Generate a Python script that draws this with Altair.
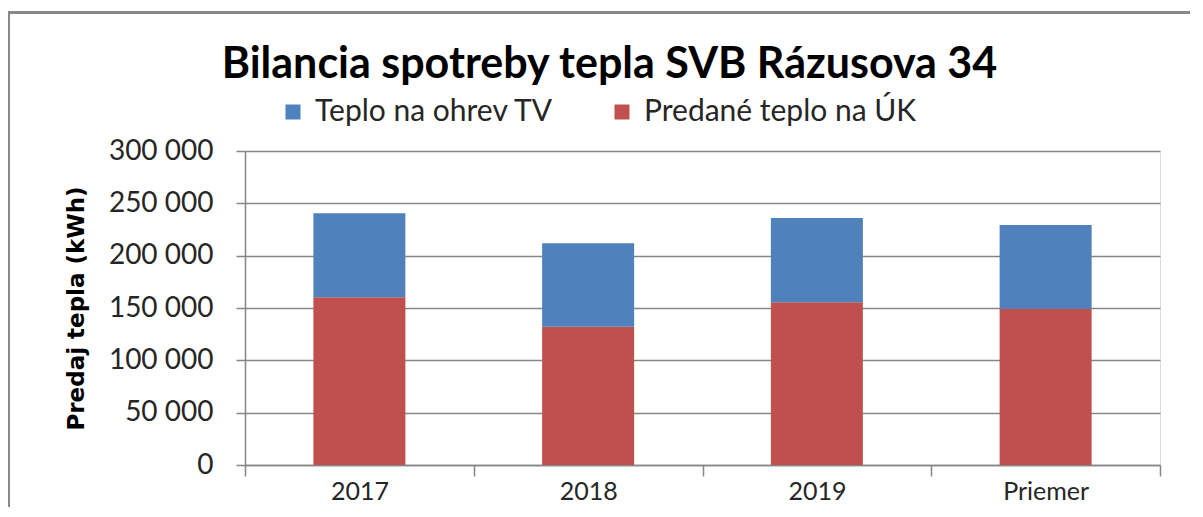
import altair as alt
import pandas as pd

categories = ["2017", "2018", "2019", "Priemer"]
series_names = ["Teplo na ohrev TV", "Predané teplo na ÚK"]
series_colors = ["#4F81BD", "#C0504D"]
uk_values = [160200, 132100, 155400, 149200]   # Predané teplo na ÚK (bottom)
tv_values = [80300, 79700, 80600, 80200]       # Teplo na ohrev TV (top)
y_ticks = [0, 50000, 100000, 150000, 200000, 250000, 300000]

rows = []
for cat, uk, tv in zip(categories, uk_values, tv_values):
    rows.append({"kategoria": cat, "seria": series_names[1], "hodnota": uk, "poradie": 0})
    rows.append({"kategoria": cat, "seria": series_names[0], "hodnota": tv, "poradie": 1})
df = pd.DataFrame(rows)

GRAY = "#868686"
TXT = "#262626"

bars = alt.Chart(df).mark_bar(size=92).encode(
    x=alt.X(
        "kategoria:N",
        sort=categories,
        scale=alt.Scale(paddingInner=0, paddingOuter=0),
        axis=alt.Axis(
            title=None, labelAngle=0, tickBand="extent", grid=False,
            tickSize=11, tickColor=GRAY, tickWidth=1.5,
            domainColor=GRAY, domainWidth=1.5,
            labelFont="Lato", labelFontSize=25, labelColor=TXT, labelPadding=3,
        ),
    ),
    y=alt.Y(
        "hodnota:Q",
        stack="zero",
        scale=alt.Scale(domain=[0, 300000], nice=False),
        axis=alt.Axis(
            values=y_ticks,
            title="Predaj tepla (kWh)",
            titleFont="DejaVu Sans", titleFontSize=23, titleFontWeight="bold",
            titleColor="black", titlePadding=20,
            labelExpr="replace(format(datum.value, ','), ',', ' ')",
            labelFont="Lato", labelFontSize=28, labelColor=TXT, labelPadding=23,
            tickSize=9, tickColor=GRAY, tickWidth=1.5,
            domainColor=GRAY, domainWidth=1.5,
            grid=True, gridColor=GRAY, gridWidth=1.5,
        ),
    ),
    color=alt.Color(
        "seria:N",
        scale=alt.Scale(domain=series_names, range=series_colors),
        legend=alt.Legend(
            title=None, orient="none", legendX=33, legendY=-54,
            direction="horizontal", symbolType="square", symbolSize=225,
            symbolStrokeWidth=0, labelFont="Lato", labelFontSize=30,
            labelColor=TXT, columnPadding=53, labelOffset=7, labelLimit=0,
        ),
    ),
    order=alt.Order("poradie:Q"),
)

frame = alt.Chart(alt.Data(values=[{}])).mark_rect(
    fill="transparent", stroke="#878787", strokeWidth=3, clip=False
).encode(
    x=alt.value(-236.5), x2=alt.value(990),
    y=alt.value(-138.5), y2=alt.value(500),
)

chart = alt.layer(frame, bars).properties(
    width=915,
    height=314,
    title=alt.TitleParams(
        text="Bilancia spotreby tepla SVB Rázusova 34",
        font="Lato", fontSize=43, fontWeight="bold", color="black",
        anchor="middle", dx=-93, offset=0, dy=76,
    ),
    autosize=alt.AutoSizeParams(type="none"),
    padding={"left": 237, "top": 143, "right": 30, "bottom": 42},
).configure_view(stroke=None).configure(background="white")

chart.save("out.html", embed_options={"renderer": "svg", "actions": False})
